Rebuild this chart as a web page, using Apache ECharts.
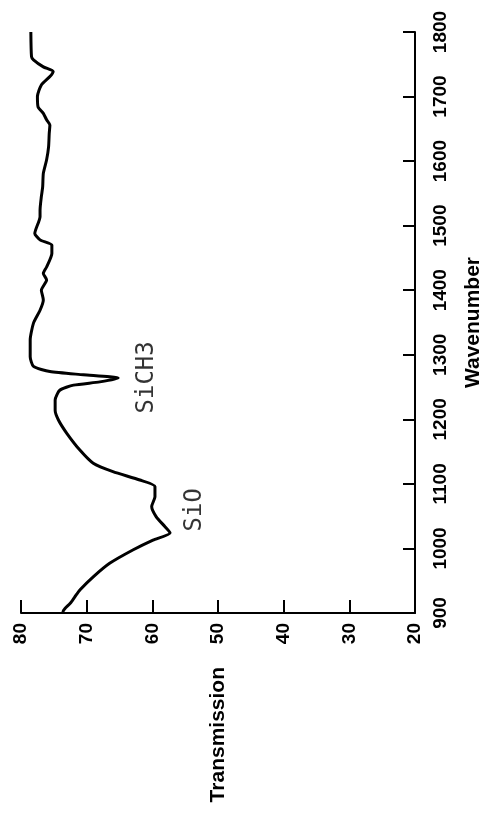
<!DOCTYPE html>
<html>
<head>
<meta charset="utf-8">
<script src="https://cdn.jsdelivr.net/npm/echarts@6/dist/echarts.min.js"></script>
<style>
html,body{margin:0;padding:0;background:#fff;}
#chart{width:486px;height:816px;}
</style>
</head>
<body>
<div id="chart"></div>
<script>
// Wavenumber (cm-1) sample positions along the spectrum
const wavenumber = [900, 902, 907, 915, 925, 936, 956, 977, 998, 1013,
  1024, 1034, 1049, 1065, 1080, 1096, 1106, 1119, 1132, 1152,
  1178, 1199, 1214, 1230, 1245, 1253, 1258, 1264, 1269, 1274,
  1282, 1297, 1323, 1349, 1369, 1385, 1400, 1416, 1426, 1436,
  1457, 1470, 1478, 1488, 1514, 1524, 1545, 1560, 1581, 1602,
  1622, 1643, 1656, 1664, 1674, 1684, 1700, 1718, 1731, 1739,
  1746, 1757, 1762, 1800];
// Transmission (%) at each wavenumber
const transmission = [73.6, 73.6, 73.3, 72.5, 71.8, 71.0, 69.0, 66.5, 62.9, 59.9,
  57.3, 58.1, 59.4, 60.1, 59.6, 59.6, 61.9, 66.0, 69.0, 71.0,
  73.0, 74.3, 74.8, 74.8, 74.1, 72.0, 68.0, 65.2, 70.5, 75.6,
  78.1, 78.6, 78.6, 78.1, 77.1, 76.6, 76.9, 76.1, 76.6, 76.1,
  75.3, 75.3, 77.1, 77.9, 77.1, 77.1, 76.9, 76.7, 76.6, 76.1,
  75.8, 75.7, 75.6, 76.1, 76.6, 77.4, 77.5, 76.9, 75.6, 75.1,
  76.6, 78.1, 78.4, 78.5];
// Peak annotations
const peakLabels = ['SiO', 'SiCH3'];
const peakWavenumber = [1060, 1265];
const peakTransmission = [53.5, 60.9];

const lineData = wavenumber.map((w, i) => [transmission[i], w]);
const peakData = peakLabels.map((n, i) => ({ name: n, value: [peakTransmission[i], peakWavenumber[i]] }));

const chart = echarts.init(document.getElementById('chart'));
const axisFont = 'Liberation Sans, Arial, Helvetica, sans-serif';
chart.setOption({
  animation: false,
  backgroundColor: '#fff',
  grid: { left: 21, right: 71, top: 32, bottom: 203, containLabel: false, outerBoundsMode: 'none' },
  xAxis: {
    type: 'value', min: 20, max: 80, interval: 10, inverse: true, position: 'bottom',
    name: 'Transmission', nameLocation: 'middle', nameRotate: 90, nameGap: 54,
    nameTextStyle: { fontFamily: axisFont, fontSize: 21, fontWeight: 'bold', color: '#000' },
    axisLine: { show: true, onZero: false, lineStyle: { color: '#000', width: 2 } },
    axisTick: { show: true, inside: true, length: 13, lineStyle: { color: '#000', width: 2 } },
    axisLabel: { rotate: 90, margin: 10, fontFamily: axisFont, fontSize: 19, fontWeight: 'bold', color: '#000',
      formatter: v => String(v) },
    splitLine: { show: false }
  },
  yAxis: {
    type: 'value', min: 900, max: 1800, interval: 100, position: 'right',
    name: 'Wavenumber', nameLocation: 'middle', nameRotate: 90, nameGap: 48,
    nameTextStyle: { fontFamily: axisFont, fontSize: 21, fontWeight: 'bold', color: '#000' },
    axisLine: { show: true, onZero: false, lineStyle: { color: '#000', width: 2 } },
    axisTick: { show: true, inside: true, length: 12, lineStyle: { color: '#000', width: 2 } },
    axisLabel: { rotate: 90, margin: 16, fontFamily: axisFont, fontSize: 19, fontWeight: 'bold', color: '#000',
      formatter: v => String(v) },
    splitLine: { show: false }
  },
  series: [
    {
      type: 'line', data: lineData, showSymbol: false, smooth: 0.2,
      lineStyle: { color: '#000', width: 3 }
    },
    {
      type: 'scatter', data: peakData, symbolSize: 0,
      label: {
        show: true, position: 'inside', rotate: 90, formatter: p => p.name,
        fontFamily: 'DejaVu Sans Mono, Liberation Mono, monospace', fontSize: 24, color: '#000',
        align: 'center', verticalAlign: 'middle'
      }
    }
  ]
});
</script>
</body>
</html>
